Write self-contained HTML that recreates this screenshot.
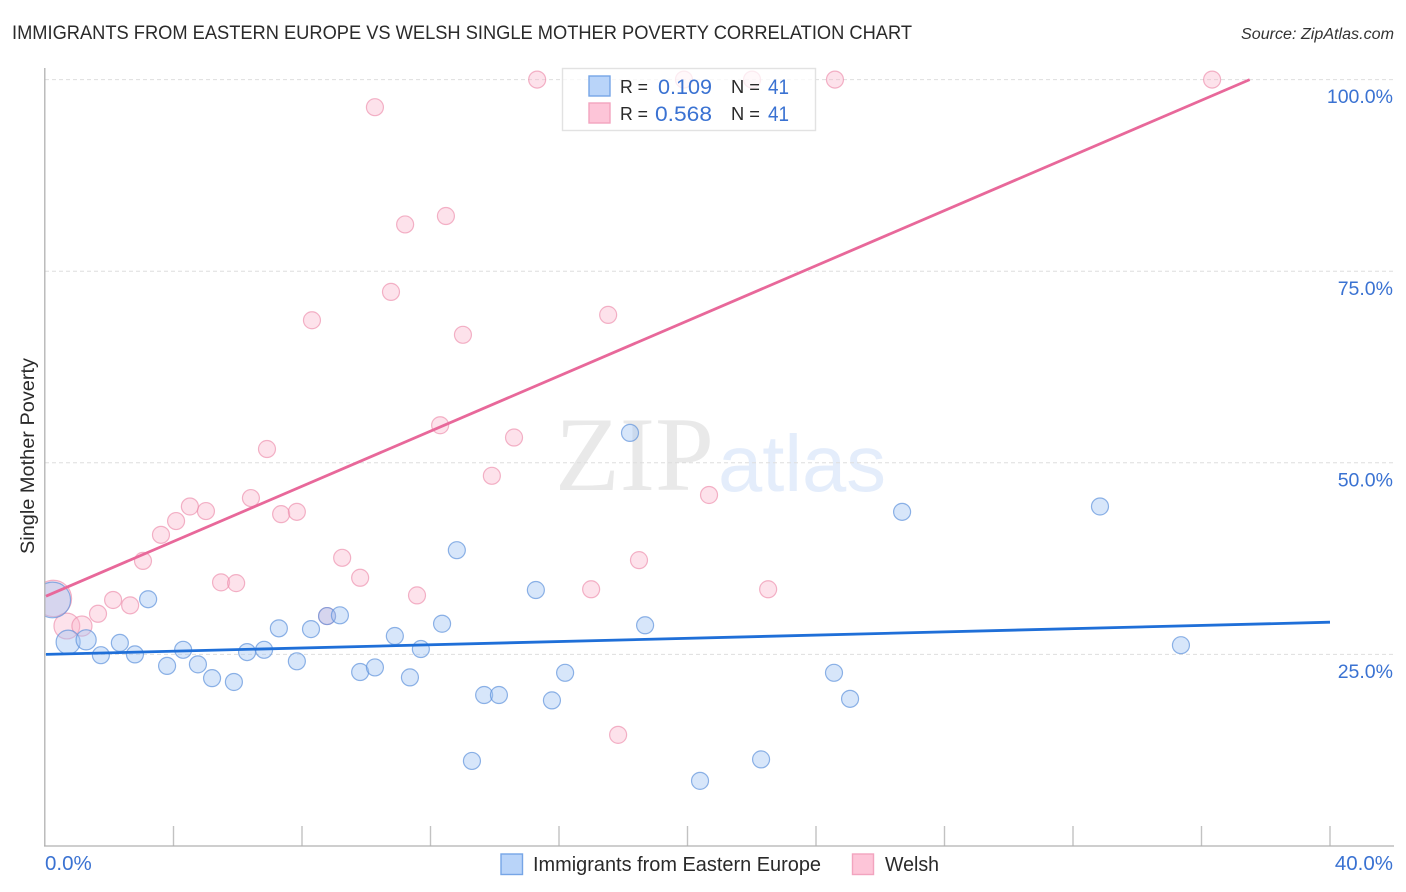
<!DOCTYPE html>
<html lang="en">
<head>
<meta charset="utf-8">
<title>Immigrants from Eastern Europe vs Welsh Single Mother Poverty Correlation Chart</title>
<style>
html,body{margin:0;padding:0;background:#fff;width:1406px;height:892px;overflow:hidden}
svg{display:block}
text{font-family:"Liberation Sans",sans-serif}
</style>
</head>
<body>
<svg id="chart" width="1406" height="892" viewBox="0 0 1406 892" xmlns="http://www.w3.org/2000/svg">
  <defs><clipPath id="plot-clip"><rect x="45" y="60" width="1349" height="786"/></clipPath></defs>
  <rect x="0" y="0" width="1406" height="892" fill="#fff"/>
  <text x="12" y="39" font-size="19.5" fill="#2a2a2a" textLength="900" lengthAdjust="spacingAndGlyphs">IMMIGRANTS FROM EASTERN EUROPE VS WELSH SINGLE MOTHER POVERTY CORRELATION CHART</text>
  <text x="1394" y="39" font-size="15.5" font-style="italic" fill="#333" text-anchor="end" textLength="153" lengthAdjust="spacingAndGlyphs">Source: ZipAtlas.com</text>
  <g>
    <text x="555" y="490" font-size="106" fill="#e9e9e9" textLength="159" lengthAdjust="spacingAndGlyphs" style="font-family:'Liberation Serif',serif">ZIP</text>
    <text x="718" y="491" font-size="80" fill="#e4edfb" textLength="168" lengthAdjust="spacingAndGlyphs">atlas</text>
  </g>
  <g id="grid"></g>
  <g id="ticks"></g>
  <g id="points" clip-path="url(#plot-clip)"></g>
  <rect x="0" y="560" width="44.5" height="90" fill="#fff"/>
  <line x1="44.8" y1="68" x2="44.8" y2="846" stroke="#b0b0b0" stroke-width="1.3"/>
  <line x1="44" y1="846" x2="1394" y2="846" stroke="#b0b0b0" stroke-width="1.3"/>
  <g id="trends"></g>
  <g id="labels"></g>
  <text transform="translate(34,456) rotate(-90)" font-size="19" fill="#2a2a2a" text-anchor="middle" textLength="196" lengthAdjust="spacingAndGlyphs">Single Mother Poverty</text>

  <g>
    <rect x="562.5" y="68.5" width="253" height="62" fill="#fff" fill-opacity="0.75" stroke="#e2e2e2" stroke-width="1.4"/>
    <rect x="589" y="76" width="21" height="20" fill="#b9d4f9" stroke="#76a5e6" stroke-width="1.4"/>
    <rect x="589" y="103" width="21" height="20" fill="#fdc5d8" stroke="#f2a4bf" stroke-width="1.4"/>
    <text x="620" y="93" font-size="18.5" fill="#2a2a2a" textLength="28" lengthAdjust="spacingAndGlyphs">R =</text>
    <text x="658" y="94" font-size="21" fill="#3a72d2" textLength="54" lengthAdjust="spacingAndGlyphs">0.109</text>
    <text x="731" y="93" font-size="18.5" fill="#2a2a2a" textLength="29" lengthAdjust="spacingAndGlyphs">N =</text>
    <text x="768" y="94" font-size="21" fill="#3a72d2" textLength="21" lengthAdjust="spacingAndGlyphs">41</text>
    <text x="620" y="120" font-size="18.5" fill="#2a2a2a" textLength="28" lengthAdjust="spacingAndGlyphs">R =</text>
    <text x="655" y="121" font-size="21" fill="#3a72d2" textLength="57" lengthAdjust="spacingAndGlyphs">0.568</text>
    <text x="731" y="120" font-size="18.5" fill="#2a2a2a" textLength="29" lengthAdjust="spacingAndGlyphs">N =</text>
    <text x="768" y="121" font-size="21" fill="#3a72d2" textLength="21" lengthAdjust="spacingAndGlyphs">41</text>
  </g>

  <g>
    <rect x="501" y="854" width="21.5" height="20.5" fill="#b9d4f9" stroke="#76a5e6" stroke-width="1.4"/>
    <text x="533" y="871" font-size="20" fill="#2a2a2a" textLength="288" lengthAdjust="spacingAndGlyphs">Immigrants from Eastern Europe</text>
    <rect x="852.5" y="854" width="21" height="20.5" fill="#fdc5d8" stroke="#f2a4bf" stroke-width="1.4"/>
    <text x="885" y="871" font-size="20" fill="#2a2a2a" textLength="54" lengthAdjust="spacingAndGlyphs">Welsh</text>
  </g>
</svg>
<script>
const immigrantsX = [0.24,0.72,1.28,1.74,2.33,2.80,3.21,3.80,4.30,4.76,5.20,5.88,6.29,6.82,7.28,7.84,8.28,8.78,9.18,9.81,10.27,10.89,11.36,11.70,12.36,12.82,13.29,13.67,14.13,15.28,15.78,16.19,18.21,18.68,20.39,22.29,24.56,25.06,26.68,32.84,35.36];
const immigrantsY = [32.1,26.6,26.9,24.9,26.5,25.0,32.2,23.5,25.6,23.7,21.9,21.4,25.3,25.6,28.4,24.1,28.3,30.0,30.1,22.7,23.3,27.4,22.0,25.7,29.0,38.6,11.1,19.7,19.7,33.4,19.0,22.6,53.9,28.8,8.5,11.3,22.6,19.2,43.6,44.3,26.2];
const immigrantsWeight = [4.4,2,1.4,1,1,1,1,1,1,1,1,1,1,1,1,1,1,1,1,1,1,1,1,1,1,1,1,1,1,1,1,1,1,1,1,1,1,1,1,1,1];
const welshX = [0.26,0.68,1.15,1.65,2.12,2.65,3.05,3.61,4.08,4.51,5.01,5.48,5.95,6.41,6.91,7.35,7.84,8.31,8.78,9.25,9.81,10.27,10.77,11.21,11.58,12.30,12.48,13.01,13.91,14.60,15.32,17.00,17.53,17.84,18.49,19.89,20.67,22.01,22.51,24.59,36.33];
const welshY = [32.3,28.7,28.7,30.3,32.1,31.4,37.2,40.6,42.4,44.3,43.7,34.4,34.3,45.4,51.8,43.3,43.6,68.6,30.0,37.6,35.0,96.4,72.3,81.1,32.7,54.9,82.2,66.7,48.3,53.3,100,33.5,69.3,14.5,37.3,100,45.8,100,33.5,100,100];
const welshWeight = [4.6,2.3,1.4,1,1,1,1,1,1,1,1,1,1,1,1,1,1,1,1,1,1,1,1,1,1,1,1,1,1,1,1,1,1,1,1,1,1,1,1,1,1];
const immigrantsTrendX = [0.03,40];
const immigrantsTrendY = [25.0,29.2];
const welshTrendX = [0.03,37.5];
const welshTrendY = [32.6,100];
const xTickValues = [4,8,12,16,20,24,28,32,36,40];
const yTickValues = [25,50,75,100];
const yTickLabels = ['25.0%','50.0%','75.0%','100.0%'];
const xEndValues = [0,40];
const xEndLabels = ['0.0%','40.0%'];

const NS = 'http://www.w3.org/2000/svg';
function xScale(v){ return 45 + v * (1330 - 45) / 40; }
function yScale(v){ return 846 - v * (846 - 79.6) / 100; }
function radius(w){ return 8.5 * Math.sqrt(w); }
function make(tag, attrs, parent){
  const el = document.createElementNS(NS, tag);
  for (const k in attrs) el.setAttribute(k, attrs[k]);
  parent.appendChild(el);
  return el;
}
const gridG = document.getElementById('grid');
const ticksG = document.getElementById('ticks');
const pointsG = document.getElementById('points');
const trendsG = document.getElementById('trends');
const labelsG = document.getElementById('labels');

yTickValues.forEach(function(v, i){
  const line = make('line', {x1:45, x2:1394, y1:yScale(v), y2:yScale(v), stroke:'#dedede', 'stroke-width':1, 'stroke-dasharray':'4 3'}, gridG);
  
  
  const label = make('text', {x:1393, y:yScale(v) + 23.6, 'font-size':19.5, fill:'#3a72d2', 'text-anchor':'end'}, labelsG);
  label.textContent = yTickLabels[i];
  
  
});
xTickValues.forEach(function(v){
  const tick = make('line', {x1:xScale(v), x2:xScale(v), y1:826, y2:846, stroke:'#c2c2c2', 'stroke-width':1.4}, ticksG);
  
  
});
xEndValues.forEach(function(v, i){
  const label = make('text', {x: i === 0 ? xScale(v) : 1393, y:870, 'font-size':20.5, fill:'#3a72d2', 'text-anchor': i === 0 ? 'start' : 'end'}, labelsG);
  label.textContent = xEndLabels[i];
  
  
});
welshX.forEach(function(v, i){
  const c = make('circle', {cx:xScale(v), cy:yScale(welshY[i]), r:radius(welshWeight[i]), fill:'#f9b4cb', 'fill-opacity':0.38, stroke:'#ec8cab', 'stroke-opacity':0.65, 'stroke-width':1.2}, pointsG);
  
  
});
immigrantsX.forEach(function(v, i){
  const c = make('circle', {cx:xScale(v), cy:yScale(immigrantsY[i]), r:radius(immigrantsWeight[i]), fill:'#9fc4f3', 'fill-opacity':0.42, stroke:'#5f93dc', 'stroke-opacity':0.7, 'stroke-width':1.2}, pointsG);
  
  
});
const trendBlue = make('line', {x1:xScale(immigrantsTrendX[0]), y1:yScale(immigrantsTrendY[0]), x2:xScale(immigrantsTrendX[1]), y2:yScale(immigrantsTrendY[1]), stroke:'#1f6fd8', 'stroke-width':2.8}, trendsG);


const trendPink = make('line', {x1:xScale(welshTrendX[0]), y1:yScale(welshTrendY[0]), x2:xScale(welshTrendX[1]), y2:yScale(welshTrendY[1]), stroke:'#e8689a', 'stroke-width':2.8}, trendsG);


</script>
</body>
</html>
